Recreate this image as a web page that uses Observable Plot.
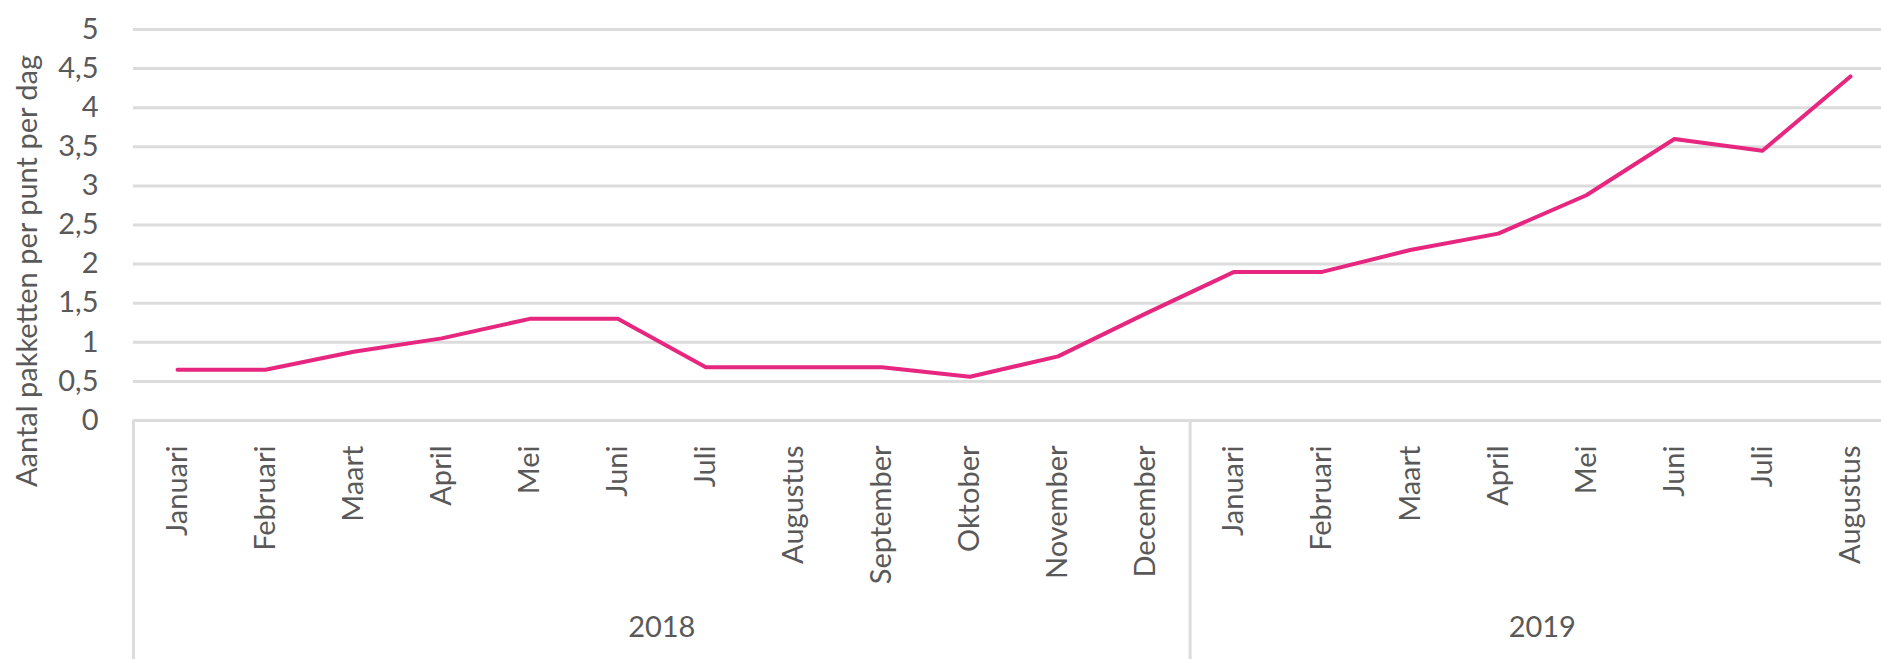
<!DOCTYPE html>
<html>
<head>
<meta charset="utf-8">
<script src="https://cdn.jsdelivr.net/npm/d3@7"></script>
<script src="https://cdn.jsdelivr.net/npm/@observablehq/plot@0.6"></script>
<style>
  html, body { margin: 0; padding: 0; background: #fff; overflow: hidden; }
  #chart svg { display: block; font-family: Lato, "Open Sans", sans-serif; }
</style>
</head>
<body>
<div id="chart"></div>
<script>
// ---- data ----
const months = ["Januari","Februari","Maart","April","Mei","Juni","Juli","Augustus","September","Oktober","November","December",
                "Januari","Februari","Maart","April","Mei","Juni","Juli","Augustus"];
const years = ["2018","2018","2018","2018","2018","2018","2018","2018","2018","2018","2018","2018",
               "2019","2019","2019","2019","2019","2019","2019","2019"];
const values = [0.65,0.65,0.88,1.05,1.3,1.3,0.68,0.68,0.68,0.56,0.82,1.37,
                1.9,1.9,2.18,2.39,2.88,3.6,3.45,4.4];
const yTicks = [0,0.5,1,1.5,2,2.5,3,3.5,4,4.5,5];
const yTitle = "Aantal pakketten per punt per dag";

// ---- derived tables ----
const data = values.map((v, i) => ({i, month: months[i], year: years[i], value: v}));
const yearNames = Array.from(new Set(years));
const yearGroups = yearNames.map(y => {
  const idx = data.filter(d => d.year === y).map(d => d.i);
  return {year: y, first: d3.min(idx), last: d3.max(idx), mid: (d3.min(idx) + d3.max(idx)) / 2};
});
const boundaries = [yearGroups[0].first - 0.5, ...yearGroups.slice(1).map(g => g.first - 0.5)];

const textColor = "#595959";
const W = 1881, H = 659;

const plot = Plot.plot({
  width: W,
  height: H,
  marginLeft: 133,
  marginRight: 0,
  marginTop: 29,
  marginBottom: 239,
  style: {fontFamily: "Lato, 'Open Sans', sans-serif", fontSize: "29px", color: textColor, background: "#fff"},
  x: {type: "linear", domain: [-0.5, months.length - 0.5], range: [133, 1894]},
  y: {domain: [0, 5]},
  marks: [
    Plot.gridY(yTicks, {stroke: "#dcdcdc", strokeOpacity: 1, strokeWidth: 3}),
    Plot.axisY({ticks: yTicks, tickSize: 0, tickPadding: 35, label: null,
                tickFormat: d => String(d).replace(".", ","), fontSize: 29, fill: textColor}),
    // year-group separators of the category axis
    Plot.axisX({ticks: boundaries, tickSize: 239, tickFormat: () => "", stroke: "#dcdcdc", strokeWidth: 3, label: null}),
    // month labels
    Plot.axisX({ticks: d3.range(months.length), tickSize: 0, tickPadding: 25, tickRotate: -90,
                tickFormat: i => months[i], label: null, fontSize: 29, fill: textColor}),
    // year labels
    Plot.text(yearGroups, {x: "mid", text: "year", frameAnchor: "bottom", dy: 216, fontSize: 29, fill: textColor}),
    // y title
    Plot.text([yTitle], {text: d => d, frameAnchor: "left", textAnchor: "middle", lineAnchor: "middle",
                         rotate: -90, dx: -106, dy: 46, fontSize: 29, fill: textColor}),
    Plot.line(data, {x: "i", y: "value", stroke: "#e6267f", strokeWidth: 4, strokeLinejoin: "round"})
  ]
});
document.getElementById("chart").appendChild(plot);
</script>
</body>
</html>
